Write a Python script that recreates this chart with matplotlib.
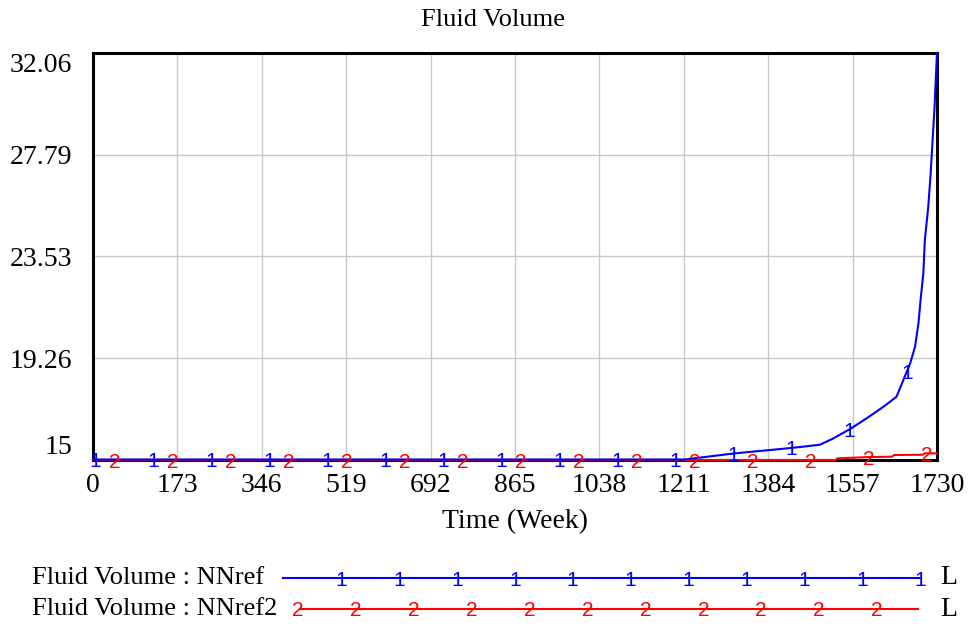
import numpy as np
import matplotlib
matplotlib.use("Agg")
import matplotlib.pyplot as plt

# Fluid Volume : NNref (blue, marker "1")
t_ref = [0, 1211, 1224, 1268, 1312, 1357, 1394, 1429, 1456, 1490, 1517, 1552, 1586, 1620,
         1647, 1661, 1675, 1685, 1692, 1697, 1702, 1705, 1712, 1717, 1721, 1725, 1728, 1730]
v_ref = [15.02, 15.02, 15.05, 15.16, 15.27, 15.36, 15.43, 15.5, 15.56, 15.64, 15.9, 16.3, 16.75, 17.23,
         17.65, 18.35, 19.05, 19.75, 20.73, 21.85, 22.83, 24.2, 25.6, 27.0, 28.4, 29.8, 31.2, 32.06]

# Fluid Volume : NNref2 (red, marker "2")
t_ref2 = [0, 1522, 1526, 1586, 1638, 1642, 1700, 1705, 1730]
v_ref2 = [15.0, 15.0, 15.07, 15.12, 15.14, 15.21, 15.22, 15.28, 15.28]

x_ticks = [0, 173, 346, 519, 692, 865, 1038, 1211, 1384, 1557, 1730]
y_ticks = [15, 19.26, 23.53, 27.79, 32.06]
y_labels = ["15", "19.26", "23.53", "27.79", "32.06"]

serif = "Liberation Serif"
sans = "Liberation Sans"
BLUE = "#0000ff"
RED = "#ff0000"
FS = 20
MFS = 15
MOFF = -0.36 * MFS  # shift so the digit is centred on the line


def marker(a, x, y, s, col):
    a.annotate(s, (x, y), xytext=(0, MOFF), textcoords="offset points", color=col,
               fontsize=MFS, family=sans, ha="center", va="baseline", zorder=5,
               annotation_clip=False)


fig = plt.figure(figsize=(9.73, 6.26), dpi=100)
ax = fig.add_axes([93 / 973, 1 - 460 / 626, 844 / 973, 407 / 626])

ax.plot(t_ref2, v_ref2, color=RED, lw=1.5, zorder=3, clip_on=False)
ax.plot(t_ref, v_ref, color=BLUE, lw=1.5, zorder=4, clip_on=False)

# numbered markers along each line
step = 118.9
m1 = 4 + step * np.arange(15)
m2 = 45 + step * np.arange(15)
m2 = m2[m2 <= 1730]
for tm in m1:
    marker(ax, tm, np.interp(tm, t_ref, v_ref), "1", BLUE)
for tm in m2:
    marker(ax, tm, np.interp(tm, t_ref2, v_ref2), "2", RED)

ax.set_xlim(0, 1730)
ax.set_ylim(15, 32.06)
ax.set_xticks(x_ticks)
ax.set_xticklabels([str(x) for x in x_ticks], family=serif, fontsize=FS)
ax.set_yticks(y_ticks)
ax.set_yticklabels(y_labels, family=serif, fontsize=FS)
ax.tick_params(axis="y", length=0, pad=15)
ax.tick_params(axis="x", length=0, pad=9)
ylabs = ax.get_yticklabels()
ylabs[0].set_va("bottom")
ylabs[-1].set_va("top")
ax.grid(True, color="#c8c8c8", lw=1)
ax.set_axisbelow(True)
for s in ax.spines.values():
    s.set_linewidth(2.2)
    s.set_color("black")

fig.text(493 / 973, 1 - 20 / 626, "Fluid Volume", family=serif, fontsize=19,
         ha="center", va="center")
ax.set_xlabel("Time (Week)", family=serif, fontsize=FS, labelpad=8)

# legend at the bottom
lg = fig.add_axes([0, 0, 1, 1], facecolor="none")
lg.set_xlim(0, 973)
lg.set_ylim(626, 0)
lg.axis("off")
rows = [("Fluid Volume : NNref", BLUE, "1", 578, 283, 920, 341),
        ("Fluid Volume : NNref2", RED, "2", 609, 300, 918, 298)]
for label, col, mk, y, x0, x1, mstart in rows:
    lg.text(32, y, label, family=serif, fontsize=19, ha="left", va="center")
    lg.plot([x0, x1], [y, y], color=col, lw=1.5)
    for xm in np.arange(mstart, x1 + 4, 57.9):
        marker(lg, xm, y, mk, col)
    lg.text(940, y, "L", family=serif, fontsize=FS, ha="left", va="center")

fig.savefig("out.png", dpi=100)
